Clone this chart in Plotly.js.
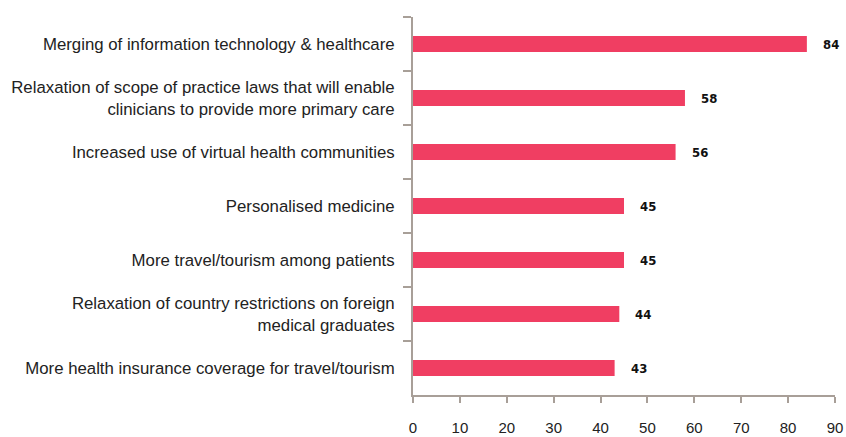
<!DOCTYPE html>
<html>
<head>
<meta charset="utf-8">
<script src="https://cdn.plot.ly/plotly-3.0.1.min.js"></script>
<style>html,body{margin:0;padding:0;background:#fff;}#chart{width:846px;height:437px;}</style>
</head>
<body>
<div id="chart"></div>
<script>
const categories = [
  "Merging of information technology & healthcare",
  "Relaxation of scope of practice laws that will enable<br>clinicians to provide more primary care",
  "Increased use of virtual health communities",
  "Personalised medicine",
  "More travel/tourism among patients",
  "Relaxation of country restrictions on foreign<br>medical graduates",
  "More health insurance coverage for travel/tourism"
];
const values = [84, 58, 56, 45, 45, 44, 43];
const xTicks = [0, 10, 20, 30, 40, 50, 60, 70, 80, 90];

const axisColor = "#a89f98";
const barColor = "#f03e62";

const trace = {
  type: "bar",
  orientation: "h",
  x: values,
  y: categories,
  marker: {color: barColor},
  width: 0.3,
  hoverinfo: "none"
};

const annotations = values.map((v, i) => ({
  x: v, y: categories[i], xref: "x", yref: "y",
  text: "<b>" + v + "</b>", showarrow: false,
  xanchor: "left", xshift: 14,
  font: {family: "Liberation Sans Narrow, DejaVu Sans Condensed, Arial Narrow, sans-serif", size: 13, color: "#111"}
}));

const layout = {
  width: 846, height: 437,
  margin: {l: 413, r: 11, t: 17, b: 42},
  paper_bgcolor: "#fff", plot_bgcolor: "#fff",
  showlegend: false,
  bargap: 0.7,
  font: {family: "Liberation Sans, Arial, sans-serif", size: 16.8, color: "#222"},
  xaxis: {
    range: [0, 90], tickvals: xTicks, ticktext: xTicks.map(String),
    showgrid: false, zeroline: false,
    showline: true, linecolor: axisColor, linewidth: 2,
    ticks: "outside", ticklen: 6, tickwidth: 2, tickcolor: axisColor,
    ticklabelstandoff: 12,
    tickfont: {size: 15, color: "#222"}
  },
  yaxis: {
    autorange: "reversed", type: "category",
    showgrid: false, zeroline: false,
    showline: true, linecolor: axisColor, linewidth: 2,
    ticks: "outside", ticklen: 8, tickwidth: 2, tickcolor: axisColor,
    tickson: "boundaries",
    ticklabelstandoff: 13,
    tickfont: {size: 16.8, color: "#222"}
  },
  annotations: annotations
};

Plotly.newPlot("chart", [trace], layout, {displayModeBar: false, staticPlot: true});
</script>
</body>
</html>
